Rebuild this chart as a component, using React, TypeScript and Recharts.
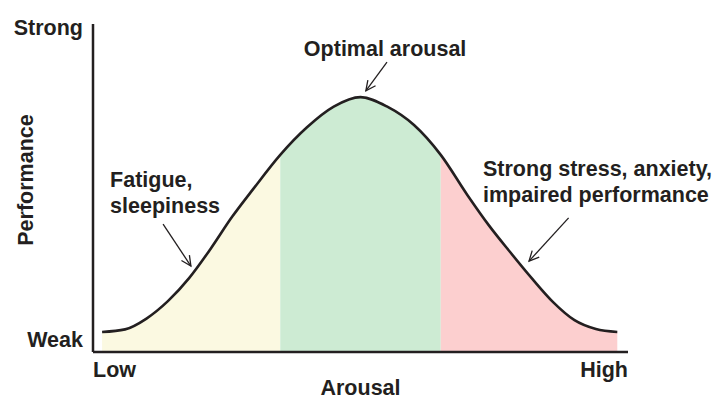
import React from "react";
import {
  ComposedChart,
  Area,
  Line,
  XAxis,
  YAxis,
  Label,
  ReferenceLine,
  ReferenceDot,
} from "recharts";

// arousal (x) vs performance (y)
const arousal = [1.7, 6, 10, 14, 18, 22, 26, 30, 35, 40, 45, 50, 55, 60, 65, 70, 74, 78, 82, 86, 90, 94, 98];
const performance = [6.1, 6.9, 10.2, 15.5, 22.6, 31.5, 41.2, 49.8, 60.1, 68.5, 74.8, 77.7, 74.8, 69.2, 60.1, 47.8, 38.6, 30.4, 22.5, 15.2, 9.7, 7.0, 6.1];

// zone boundaries on the arousal axis: fatigue | optimal | stress
const zoneBreaks = [35, 65];

const xTicks = [0, 100];
const xTickLabels = ["Low", "High"];
const yTicks = [3.9, 99];
const yTickLabels = ["Weak", "Strong"];

const notes = [
  { x: 54.6, y: 90.2, lines: ["Optimal arousal"], anchor: "middle" },
  { x: 3.2, y: 50.3, lines: ["Fatigue,", "sleepiness"], anchor: "start" },
  { x: 72.9, y: 53.6, lines: ["Strong stress, anxiety,", "impaired performance"], anchor: "start" },
];

const arrows = [
  { from: { x: 54.95, y: 88.4 }, to: { x: 51.0, y: 79.6 } },
  { from: { x: 13.1, y: 39.0 }, to: { x: 18.3, y: 26.2 } },
  { from: { x: 88.9, y: 40.9 }, to: { x: 81.5, y: 27.7 } },
];

const INK = "#231f20";
const FONT = "'Liberation Sans', Arial, Helvetica, sans-serif";
const FS = 21.5;

const data = arousal.map((x, i) => {
  const v = performance[i];
  return {
    x,
    curve: v,
    low: x <= zoneBreaks[0] ? v : null,
    mid: x >= zoneBreaks[0] && x <= zoneBreaks[1] ? v : null,
    high: x >= zoneBreaks[1] ? v : null,
  };
});

const textStyle = { fontFamily: FONT, fontWeight: 700, fontSize: FS, fill: INK };

const XTick = (props: any) => {
  const { x, y, payload } = props;
  const i = xTicks.indexOf(payload.value);
  return (
    <text x={x} y={y + 25} textAnchor={i === 0 ? "start" : "end"} style={textStyle}>
      {xTickLabels[i]}
    </text>
  );
};

const YTick = (props: any) => {
  const { x, y, payload } = props;
  const i = yTicks.indexOf(payload.value);
  return (
    <text x={x - 10} y={y} dy="0.355em" textAnchor="end" style={textStyle}>
      {yTickLabels[i]}
    </text>
  );
};

const Arrow = (props: any) => {
  const { x1, y1, x2, y2 } = props;
  const ang = Math.atan2(y2 - y1, x2 - x1);
  const len = 11;
  const spread = Math.PI / 7;
  const a1 = ang + Math.PI - spread;
  const a2 = ang + Math.PI + spread;
  return (
    <g stroke={INK} strokeWidth={1.3} fill="none">
      <line x1={x1} y1={y1} x2={x2} y2={y2} />
      <polyline
        points={`${x2 + len * Math.cos(a1)},${y2 + len * Math.sin(a1)} ${x2},${y2} ${x2 + len * Math.cos(a2)},${y2 + len * Math.sin(a2)}`}
      />
    </g>
  );
};

export default function App() {
  return (
    <div style={{ position: "absolute", left: 0, top: 0, background: "#fff" }}>
      <ComposedChart
        width={726}
        height={401}
        data={data}
        margin={{ top: 24, right: 98, bottom: 9, left: 8 }}
      >
        <Area type="monotone" dataKey="low" stroke="none" fill="#fbf9e1" fillOpacity={1} isAnimationActive={false} />
        <Area type="monotone" dataKey="mid" stroke="none" fill="#cdebd3" fillOpacity={1} isAnimationActive={false} />
        <Area type="monotone" dataKey="high" stroke="none" fill="#fccfcf" fillOpacity={1} isAnimationActive={false} />
        <Line type="monotone" dataKey="curve" stroke={INK} strokeWidth={2.6} dot={false} isAnimationActive={false} />
        <XAxis
          type="number"
          dataKey="x"
          domain={[0, 100]}
          ticks={xTicks}
          tick={<XTick />}
          tickLine={false}
          tickSize={0}
          tickMargin={0}
          height={40}
          axisLine={{ stroke: INK, strokeWidth: 2.5 }}
        >
          <Label
            content={(p: any) => (
              <text x={p.viewBox.x + p.viewBox.width / 2} y={p.viewBox.y + 43} textAnchor="middle" style={textStyle}>
                Arousal
              </text>
            )}
          />
        </XAxis>
        <YAxis
          type="number"
          domain={[0, 100]}
          ticks={yTicks}
          tick={<YTick />}
          tickLine={false}
          tickSize={0}
          tickMargin={0}
          width={85}
          axisLine={{ stroke: INK, strokeWidth: 2.5 }}
        >
          <Label
            content={(p: any) => {
              const cx = p.viewBox.x + 25;
              const cy = p.viewBox.y + 156;
              return (
                <text x={cx} y={cy} textAnchor="middle" transform={`rotate(-90 ${cx} ${cy})`} style={textStyle}>
                  Performance
                </text>
              );
            }}
          />
        </YAxis>
        {arrows.map((a, i) => (
          <ReferenceLine key={`a${i}`} segment={[a.from, a.to]} shape={(p: any) => <Arrow {...p} />} />
        ))}
        {notes.map((n, i) => (
          <ReferenceDot
            key={`n${i}`}
            x={n.x}
            y={n.y}
            r={0}
            shape={(p: any) => (
              <text x={p.cx} y={p.cy} textAnchor={n.anchor as any} style={textStyle}>
                {n.lines.map((l, j) => (
                  <tspan key={j} x={p.cx} dy={j === 0 ? 0 : 26}>
                    {l}
                  </tspan>
                ))}
              </text>
            )}
          />
        ))}
      </ComposedChart>
    </div>
  );
}
